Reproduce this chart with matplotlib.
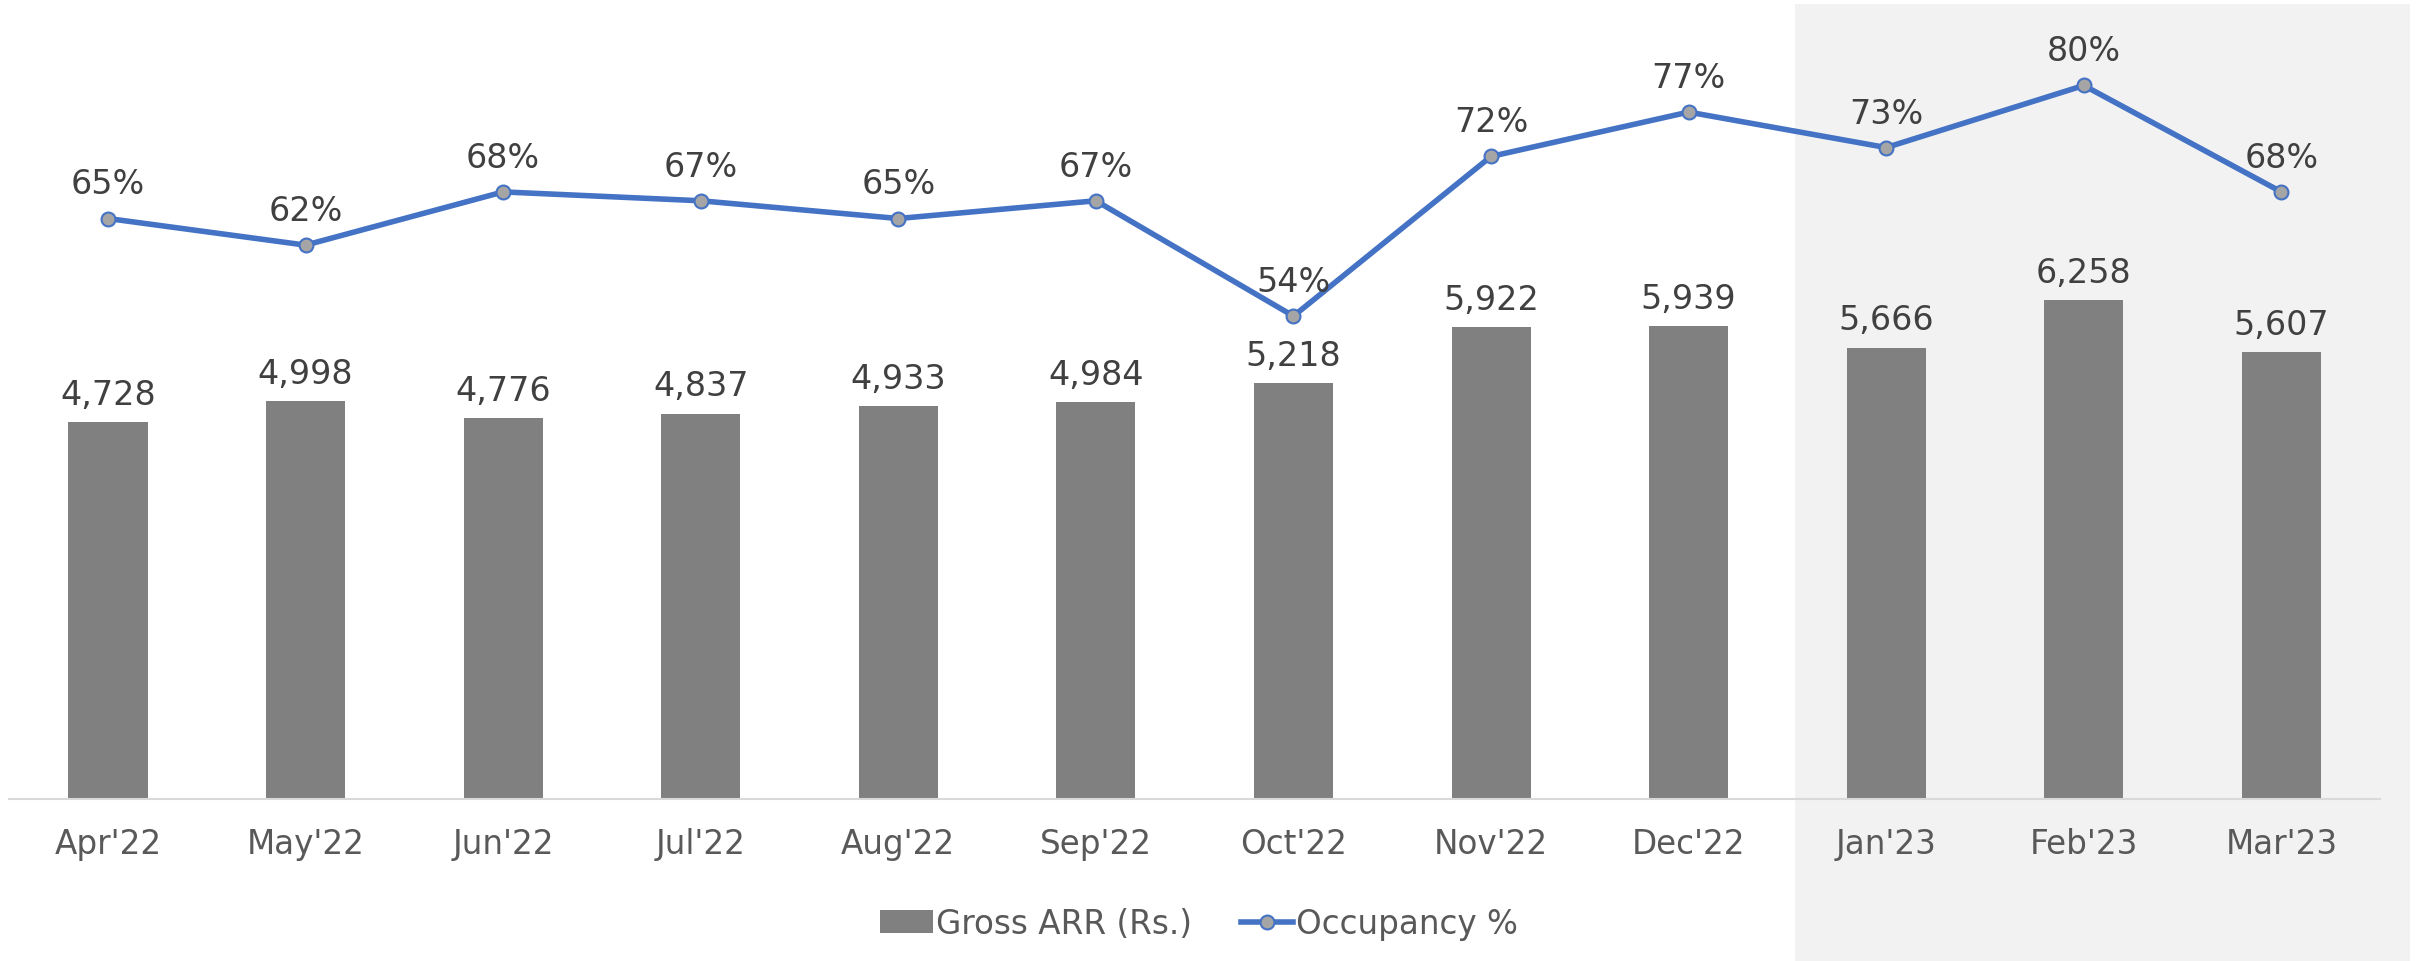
import matplotlib
matplotlib.use("Agg")
import matplotlib.pyplot as plt
from matplotlib.patches import Rectangle
import numpy as np

# data
months = ["Apr'22", "May'22", "Jun'22", "Jul'22", "Aug'22", "Sep'22",
          "Oct'22", "Nov'22", "Dec'22", "Jan'23", "Feb'23", "Mar'23"]
gross_arr = [4728, 4998, 4776, 4837, 4933, 4984, 5218, 5922, 5939, 5666, 6258, 5607]
occupancy = [0.65, 0.62, 0.68, 0.67, 0.65, 0.67, 0.54, 0.72, 0.77, 0.73, 0.80, 0.68]

plt.rcParams['font.family'] = ['DejaVu Sans']
fig = plt.figure(figsize=(24.23, 9.62), dpi=100)

# grey band behind the last quarter
fig.patches.append(Rectangle((0.7408, 0.0), 0.2538, 0.9948, transform=fig.transFigure,
                             facecolor='#F2F2F2', edgecolor='none', zorder=-5))

ax = fig.add_axes([0.0038, 0.1684, 0.9785, 0.8316])
ax.set_facecolor('none')
x = np.arange(len(months))
bars = ax.bar(x, gross_arr, width=0.4, color='#808080', label='Gross ARR (Rs.)', zorder=2)
ax.set_ylim(0, 10040)
ax.set_xlim(-0.5, 11.5)
for xi, v in zip(x, gross_arr):
    ax.annotate(f"{v:,}", (xi, v), xytext=(0, 8), textcoords='offset points',
                ha='center', va='bottom', fontsize=24, color='#404040')

ax.set_xticks(x)
ax.set_xticklabels(months, fontsize=23.5, color='#595959')
ax.tick_params(axis='x', length=0, pad=20)
ax.set_yticks([])
for s in ['top', 'right', 'left']:
    ax.spines[s].set_visible(False)
ax.spines['bottom'].set_color('#D9D9D9')
ax.spines['bottom'].set_linewidth(1.5)

ax2 = ax.twinx()
ax2.set_ylim(-0.0045, 0.8975)
ln, = ax2.plot(x, occupancy, color='#4472C4', linewidth=4, marker='o', markersize=10,
               markerfacecolor='#A5A5A5', markeredgecolor='#4472C4', markeredgewidth=1.5,
               label='Occupancy %', zorder=3)
for xi, v in zip(x, occupancy):
    ax2.annotate(f"{v:.0%}", (xi, v), xytext=(0, 13), textcoords='offset points',
                 ha='center', va='bottom', fontsize=24, color='#404040')
ax2.set_yticks([])
for s in ['top', 'right', 'left', 'bottom']:
    ax2.spines[s].set_visible(False)

fig.legend(handles=[bars, ln], loc='center', bbox_to_anchor=(0.495, 0.039), ncol=2,
           frameon=False, fontsize=23.5, labelcolor='#595959', handlelength=1.6,
           handletextpad=0.1, columnspacing=1.5)

fig.savefig('out.png', dpi=100)
